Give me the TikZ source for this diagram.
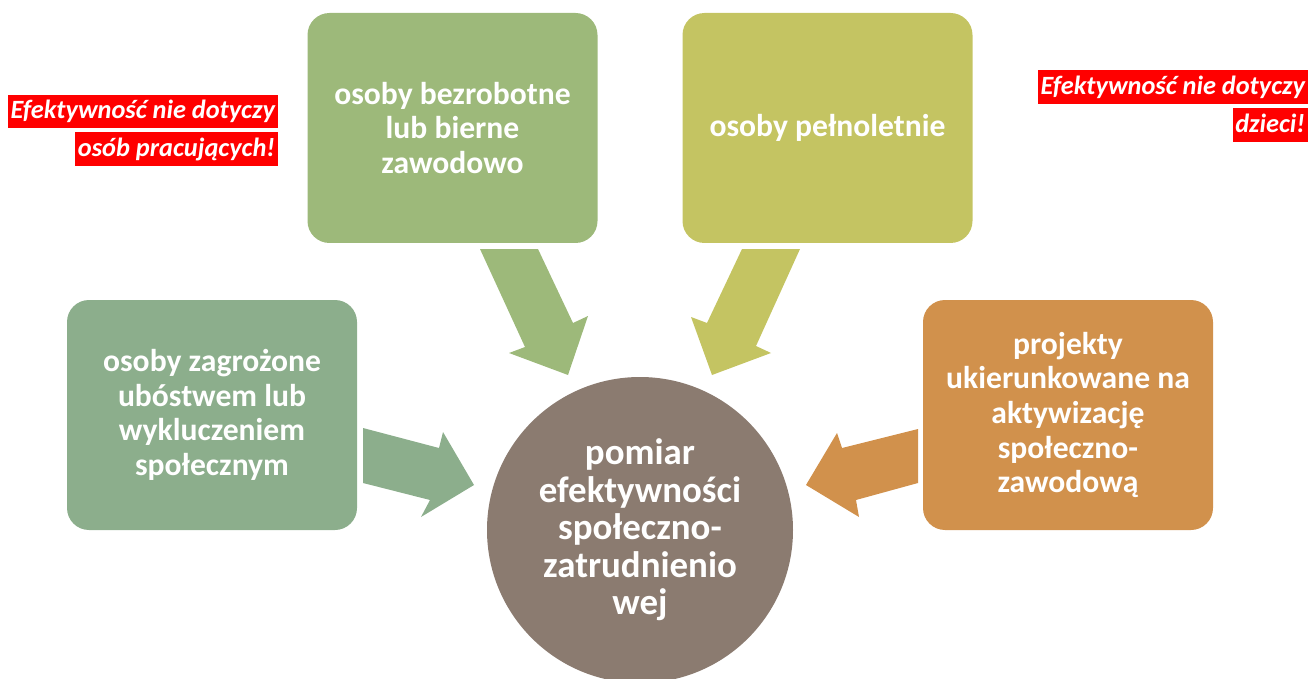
\documentclass[tikz,border=0pt]{standalone}
\usepackage{fontspec}
\setmainfont{Carlito}
\definecolor{cgreen}{HTML}{9DB97A}
\definecolor{cyel}{HTML}{C4C462}
\definecolor{csage}{HTML}{8CAE8C}
\definecolor{corange}{HTML}{D1914C}
\definecolor{cbrown}{HTML}{8B7B70}
\definecolor{cred}{HTML}{FF0000}
\tikzset{
  box/.style={rounded corners=22*0.02cm, minimum width=290*0.02cm, minimum height=230*0.02cm, text=white, align=center, font=\fontsize{18}{19.7}\selectfont\bfseries, inner sep=0pt},
  warn/.style={fill=cred, text=white, font=\fontsize{15}{18}\selectfont\bfseries\itshape, inner xsep=1.5pt, inner ysep=2pt, text height=11.5pt, text depth=3.5pt, anchor=east},
}
\begin{document}
\begin{tikzpicture}[x=0.02cm,y=-0.02cm]
\useasboundingbox (0,0) rectangle (1313,679);
\clip (0,0) rectangle (1313,679);
% boxes
\node[box, fill=cgreen] (b1) at (452.5,128) {osoby bezrobotne\\lub bierne\\zawodowo};
\node[box, fill=cyel] (b2) at (827.5,128) {osoby pełnoletnie};
\node[box, fill=csage] (b3) at (212,415) {osoby zagrożone\\ubóstwem lub\\wykluczeniem\\społecznym};
\node[box, fill=corange] (b4) at (1068,415) {projekty\\ukierunkowane na\\aktywizację\\społeczno-\\zawodową};
% circle
\node[circle, fill=cbrown, minimum size=306*0.02cm, inner sep=0pt, text=white, align=center, font=\fontsize{21}{21.3}\selectfont\bfseries] (c) at (640,530) {pomiar\\efektywności\\społeczno-\\zatrudnienio\\wej};
% block arrows
\fill[cgreen] (480,249) -- (538,249) -- (573,323) -- (588,316) -- (568,375) -- (509,353) -- (525,347) -- cycle;
\fill[cyel] (742,249) -- (800,249) -- (756,346) -- (771,353) -- (712,375) -- (691,317) -- (707,323) -- cycle;
\fill[csage] (363,428) -- (439,448) -- (443,432) -- (474,485) -- (421,517) -- (430,500) -- (363,483) -- cycle;
\fill[corange] (918,429) -- (842,448) -- (837,433) -- (806,485) -- (859,517) -- (856,500) -- (918,483) -- cycle;
% warnings
\node[warn] (w1) at (278,111.5) {Efektywność nie dotyczy};
\node[warn] (w2) at (278,149) {osób pracujących!};
\node[warn] (w3) at (1308,87) {Efektywność nie dotyczy};
\node[warn] (w4) at (1308,125) {dzieci!};
\end{tikzpicture}
\end{document}
